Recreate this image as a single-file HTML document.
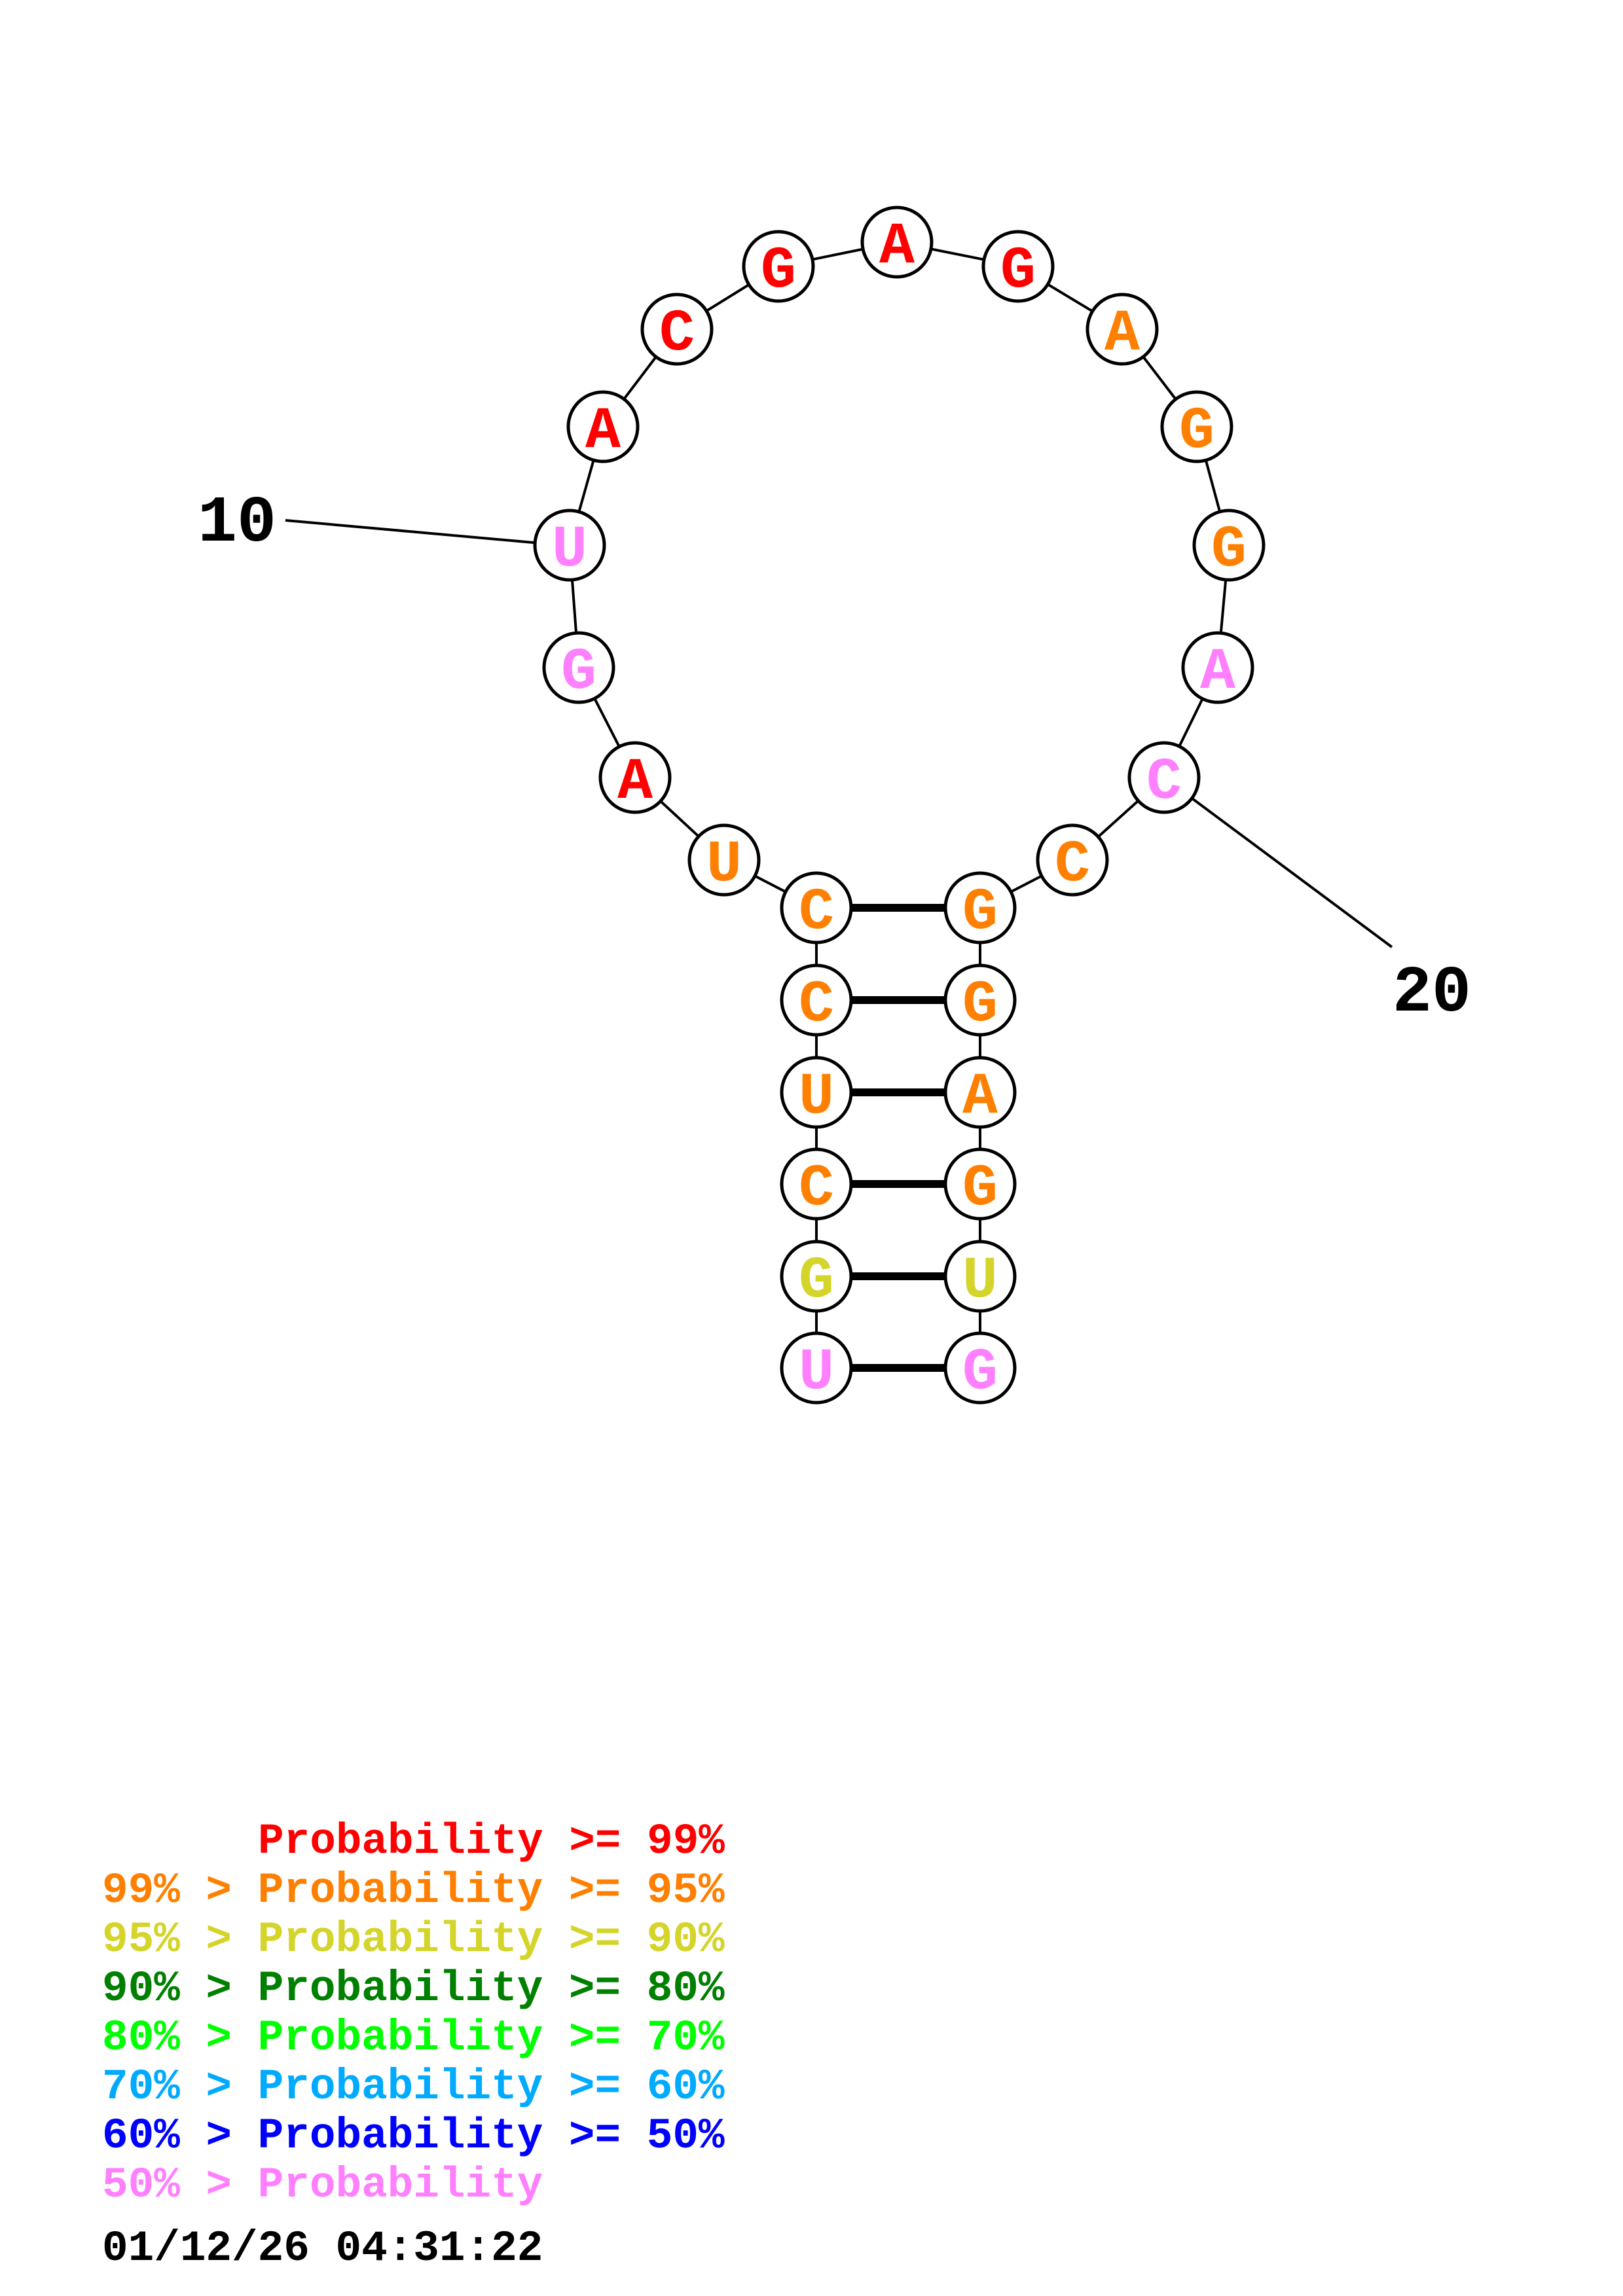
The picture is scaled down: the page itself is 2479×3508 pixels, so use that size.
<!DOCTYPE html>
<html><head><style>body{margin:0;background:#fff}svg{display:block}</style></head>
<body>
<svg width="2479" height="3508" viewBox="0 0 2479 3508" xmlns="http://www.w3.org/2000/svg">
<g stroke="#000" stroke-width="4" fill="none">
<polyline points="1247,2090 1247,1950 1247,1809 1247,1669 1247,1528 1247,1387 1106,1314 970,1188 884,1020 870,833 921,652 1034,503 1189,407 1370,370 1555,407 1714,503 1828,652 1877,833 1860,1020 1778,1188 1638,1314 1497,1387 1497,1528 1497,1669 1497,1809 1497,1950 1497,2090"/>
<line x1="436" y1="795" x2="815" y2="829"/>
<line x1="1778" y1="1188" x2="2126" y2="1447"/>
</g>
<g stroke="#000" stroke-width="12">
<line x1="1247" y1="1387" x2="1497" y2="1387"/>
<line x1="1247" y1="1528" x2="1497" y2="1528"/>
<line x1="1247" y1="1669" x2="1497" y2="1669"/>
<line x1="1247" y1="1809" x2="1497" y2="1809"/>
<line x1="1247" y1="1950" x2="1497" y2="1950"/>
<line x1="1247" y1="2090" x2="1497" y2="2090"/>
</g>
<g stroke="#000" stroke-width="5" fill="#fff">
<circle cx="1247" cy="1387" r="53"/><circle cx="1247" cy="1528" r="53"/><circle cx="1247" cy="1669" r="53"/><circle cx="1247" cy="1809" r="53"/><circle cx="1247" cy="1950" r="53"/><circle cx="1247" cy="2090" r="53"/>
<circle cx="1497" cy="1387" r="53"/><circle cx="1497" cy="1528" r="53"/><circle cx="1497" cy="1669" r="53"/><circle cx="1497" cy="1809" r="53"/><circle cx="1497" cy="1950" r="53"/><circle cx="1497" cy="2090" r="53"/>
<circle cx="1106" cy="1314" r="53"/><circle cx="970" cy="1188" r="53"/><circle cx="884" cy="1020" r="53"/><circle cx="870" cy="833" r="53"/><circle cx="921" cy="652" r="53"/><circle cx="1034" cy="503" r="53"/><circle cx="1189" cy="407" r="53"/><circle cx="1370" cy="370" r="53"/><circle cx="1555" cy="407" r="53"/><circle cx="1714" cy="503" r="53"/><circle cx="1828" cy="652" r="53"/><circle cx="1877" cy="833" r="53"/><circle cx="1860" cy="1020" r="53"/><circle cx="1778" cy="1188" r="53"/><circle cx="1638" cy="1314" r="53"/>
</g>
<g font-family="Liberation Mono, monospace" font-weight="bold" font-size="90" text-anchor="middle">
<text x="1247" y="1418" fill="#ff8000">C</text><text x="1247" y="1559" fill="#ff8000">C</text><text x="1247" y="1700" fill="#ff8000">U</text><text x="1247" y="1840" fill="#ff8000">C</text><text x="1247" y="1981" fill="#d4d42a">G</text><text x="1247" y="2121" fill="#ff80ff">U</text>
<text x="1497" y="1418" fill="#ff8000">G</text><text x="1497" y="1559" fill="#ff8000">G</text><text x="1497" y="1700" fill="#ff8000">A</text><text x="1497" y="1840" fill="#ff8000">G</text><text x="1497" y="1981" fill="#d4d42a">U</text><text x="1497" y="2121" fill="#ff80ff">G</text>
<text x="1106" y="1345" fill="#ff8000">U</text><text x="970" y="1219" fill="#ff0000">A</text><text x="884" y="1051" fill="#ff80ff">G</text><text x="870" y="864" fill="#ff80ff">U</text><text x="921" y="683" fill="#ff0000">A</text><text x="1034" y="534" fill="#ff0000">C</text><text x="1189" y="438" fill="#ff0000">G</text><text x="1370" y="401" fill="#ff0000">A</text><text x="1555" y="438" fill="#ff0000">G</text><text x="1714" y="534" fill="#ff8000">A</text><text x="1828" y="683" fill="#ff8000">G</text><text x="1877" y="864" fill="#ff8000">G</text><text x="1860" y="1051" fill="#ff80ff">A</text><text x="1778" y="1219" fill="#ff80ff">C</text><text x="1638" y="1345" fill="#ff8000">C</text>
</g>
<g font-family="Liberation Mono, monospace" font-weight="bold" font-size="100" fill="#000">
<text x="302" y="826">10</text>
<text x="2127" y="1544">20</text>
</g>
<g font-family="Liberation Mono, monospace" font-weight="bold" font-size="66">
<text x="394" y="2831" fill="#ff0000">Probability &gt;= 99%</text>
<text x="156" y="2906" fill="#ff8000">99% &gt; Probability &gt;= 95%</text>
<text x="156" y="2981" fill="#d4d42a">95% &gt; Probability &gt;= 90%</text>
<text x="156" y="3056" fill="#008000">90% &gt; Probability &gt;= 80%</text>
<text x="156" y="3131" fill="#00ff00">80% &gt; Probability &gt;= 70%</text>
<text x="156" y="3206" fill="#00aaff">70% &gt; Probability &gt;= 60%</text>
<text x="156" y="3281" fill="#0000ff">60% &gt; Probability &gt;= 50%</text>
<text x="156" y="3356" fill="#ff80ff">50% &gt; Probability</text>
<text x="156" y="3453" fill="#000">01/12/26 04:31:22</text>
</g>
</svg>
</body></html>
